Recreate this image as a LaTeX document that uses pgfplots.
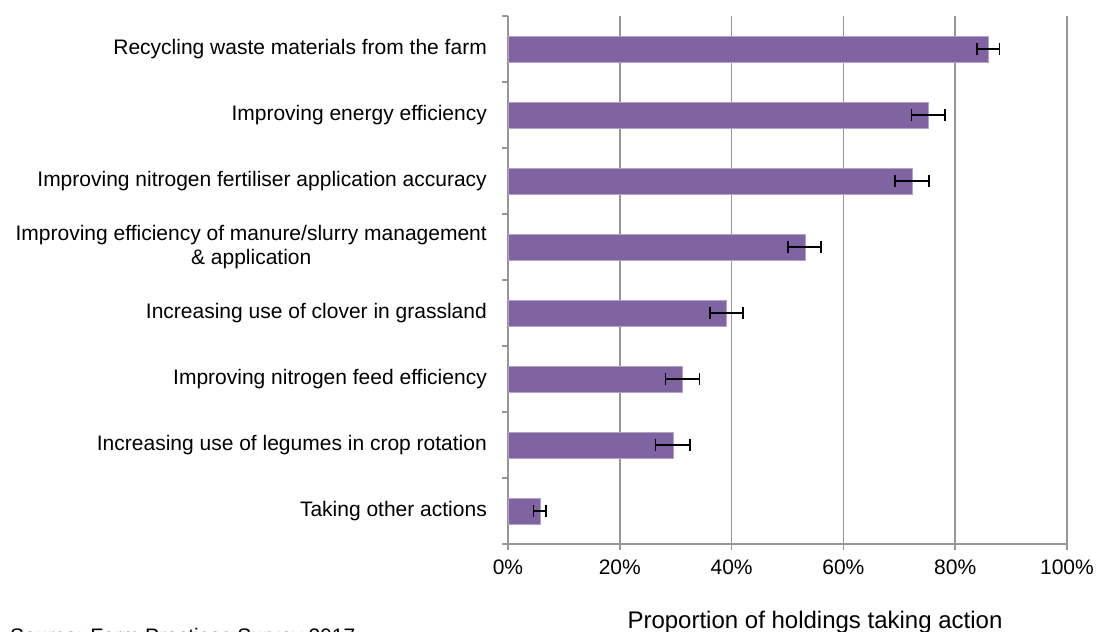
\documentclass[border=0pt]{standalone}
\usepackage{fontspec}
\setmainfont{Liberation Sans}
\usepackage{pgfplots}
\usepackage{pgfplotstable}
\pgfplotsset{compat=1.18}
\definecolor{barpurple}{HTML}{8064A2}
\definecolor{baredge}{HTML}{B3A2C7}
\definecolor{gridgray}{HTML}{969696}

\pgfplotstableread{
idx val err
1 85.9 2.0
2 75.2 3.0
3 72.3 3.05
4 53.1 2.95
5 39.1 3.0
6 31.2 3.05
7 29.5 3.1
8 5.7 1.15
}\datatable

\begin{document}
\begin{tikzpicture}
\useasboundingbox (0pt,0pt) rectangle (1096pt,632pt);
\begin{axis}[
  at={(508pt,88pt)}, anchor=south west,
  scale only axis, width=559pt, height=528pt,
  xmin=0, xmax=100, ymin=0.5, ymax=8.5, y dir=reverse,
  xbar, bar width=26pt,
  axis x line*=bottom, axis y line*=left,
  axis line style={gridgray, line width=1.5pt, -},
  xmajorgrids, grid style={gridgray, line width=1.5pt},
  tick align=outside, major tick length=6pt,
  tick style={gridgray, line width=1.5pt},
  xtick={0,20,...,100},
  xticklabels={0\%,20\%,40\%,60\%,80\%,100\%},
  ytick={0.5,1.5,...,8.5},
  yticklabels={Recycling waste materials from the farm,
               Improving energy efficiency,
               Improving nitrogen fertiliser application accuracy,
               {Improving efficiency of manure/slurry management\\\& application},
               Increasing use of clover in grassland,
               Improving nitrogen feed efficiency,
               Increasing use of legumes in crop rotation,
               Taking other actions,
               {}},
  tick label style={font=\fontsize{21}{24}\selectfont, text=black},
  yticklabel style={yshift=-33pt, align=center, inner sep=0pt, xshift=-15pt},
  xticklabel style={inner sep=0pt, yshift=-10pt},
]
\addplot[xbar, fill=barpurple, draw=baredge, line width=0.6pt,
  error bars/.cd, x dir=both, x explicit,
  error bar style={black, line width=1.7pt},
  error mark options={black, line width=1.7pt, mark size=6pt, rotate=90}]
  table[x=val, y=idx, x error=err]{\datatable};
\end{axis}
\node[anchor=base, font=\fontsize{24}{28}\selectfont] at (815pt,3pt) {Proportion of holdings taking action};
\node[anchor=base west, inner sep=0pt, font=\fontsize{21}{24}\selectfont] at (10pt,-12pt) {Source: Farm Practices Survey 2017};
\end{tikzpicture}
\end{document}
